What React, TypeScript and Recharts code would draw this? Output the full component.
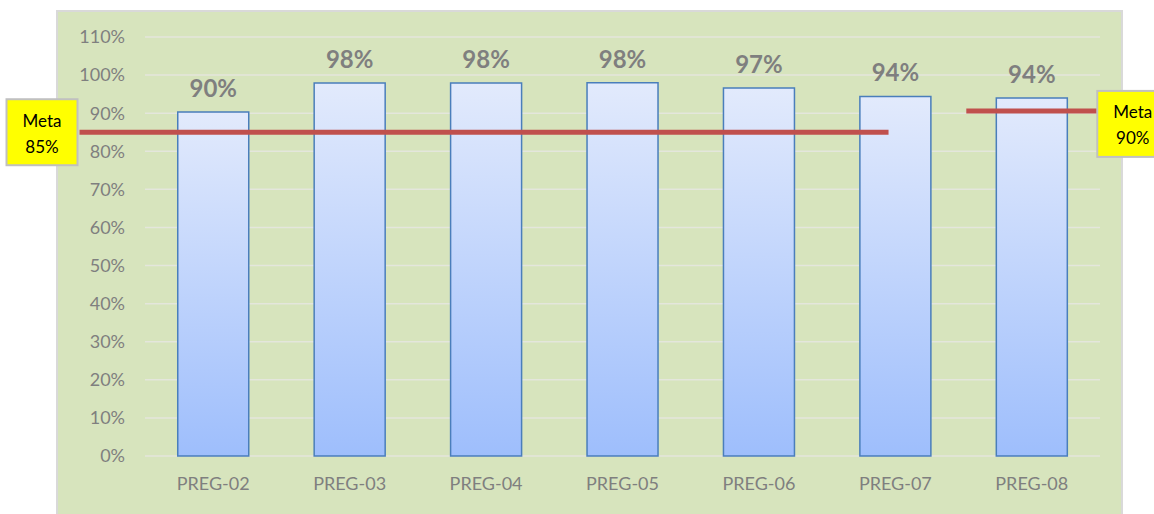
import React from 'react';
import { BarChart, Bar, XAxis, YAxis, CartesianGrid, ReferenceLine, LabelList } from 'recharts';

const categories = ['PREG-02', 'PREG-03', 'PREG-04', 'PREG-05', 'PREG-06', 'PREG-07', 'PREG-08'];
const values = [90.3, 97.9, 97.9, 98.0, 96.6, 94.4, 94.0];
const yTicks = [0, 10, 20, 30, 40, 50, 60, 70, 80, 90, 100, 110];

// target lines ("Meta"); x in category-index units on a hidden numeric axis
// (0 = centre of PREG-02, 6 = centre of PREG-08)
const metaValues = [85, 90.6];
const metaTexts = ['85%', '90%'];
const metaStarts = [-0.98, 5.52];
const metaEnds = [4.95, 6.48];

const data = categories.map((name, i) => ({ name, idx: i, value: values[i] }));

const FONT = 'Lato, "Liberation Sans", sans-serif';

function MetaBox(props: any) {
  const { viewBox, text, side, top } = props;
  const { x, y, width } = viewBox;
  const bx = side === 'left' ? x - 73 : x + width;
  const by = y + top;
  return (
    <g>
      <rect x={bx} y={by} width={71} height={66} fill="#ffff00" stroke="#c0c0c0" strokeWidth={2} />
      <text x={bx + 35.5} y={by + 21} textAnchor="middle" dominantBaseline="central"
        fontFamily={FONT} fontSize={17} fill="#000">Meta</text>
      <text x={bx + 35.5} y={by + 47} textAnchor="middle" dominantBaseline="central"
        fontFamily={FONT} fontSize={17} fill="#000">{text}</text>
    </g>
  );
}

export default function App() {
  return (
    <div style={{ position: 'relative', width: 1154, height: 514, overflow: 'hidden' }}>
      <style>{'body{margin:0}'}</style>
      <div style={{
        position: 'absolute', left: 56, top: 10, width: 1067, height: 520,
        boxSizing: 'border-box', background: '#d7e4bd', border: '2px solid #d9d9d9',
      }} />
      <div style={{ position: 'absolute', left: 0, top: 0 }}>
        <BarChart width={1154} height={514} data={data}
          margin={{ top: 37, right: 54, bottom: 18, left: 0 }} barCategoryGap="24%">
          <defs>
            <linearGradient id="barFill" x1="0" y1="0" x2="0" y2="1">
              <stop offset="0%" stopColor="#e2eafc" />
              <stop offset="100%" stopColor="#9ebefc" />
            </linearGradient>
          </defs>
          <CartesianGrid vertical={false} stroke="#e4e6dc" strokeWidth={1.5} />
          <XAxis dataKey="name" axisLine={false} tickLine={false} tickSize={0} tickMargin={21} height={40}
            tick={{ fill: '#7f7f7f', fontSize: 18, fontFamily: FONT }} interval={0} />
          <XAxis xAxisId="seg" dataKey="idx" type="number"
            domain={['dataMin - 0.5', 'dataMax + 0.5']} allowDataOverflow hide />
          <YAxis domain={[0, 110]} ticks={yTicks} width={145} axisLine={false} tickLine={false}
            tickSize={0} tickMargin={20} interval={0}
            tickFormatter={(v: number) => `${v}%`}
            tick={{ fill: '#7f7f7f', fontSize: 18, fontFamily: FONT }} />
          <Bar dataKey="value" fill="url(#barFill)" stroke="#4a7ebb" strokeWidth={1.5} isAnimationActive={false}>
            <LabelList dataKey="value" position="top" offset={15}
              formatter={(v: any) => `${Math.round(Number(v))}%`}
              style={{ fill: '#7f7f7f', fontSize: 24, fontWeight: 700, fontFamily: FONT }} />
          </Bar>
          <ReferenceLine xAxisId="seg" ifOverflow="visible" stroke="#c0504d" strokeWidth={5}
            segment={[{ x: metaStarts[0], y: metaValues[0] }, { x: metaEnds[0], y: metaValues[0] }]}
            label={(p: any) => <MetaBox {...p} text={metaTexts[0]} side="left" top={-33} />} />
          <ReferenceLine xAxisId="seg" ifOverflow="visible" stroke="#c0504d" strokeWidth={5}
            segment={[{ x: metaStarts[1], y: metaValues[1] }, { x: metaEnds[1], y: metaValues[1] }]}
            label={(p: any) => <MetaBox {...p} text={metaTexts[1]} side="right" top={-20} />} />
        </BarChart>
      </div>
    </div>
  );
}
